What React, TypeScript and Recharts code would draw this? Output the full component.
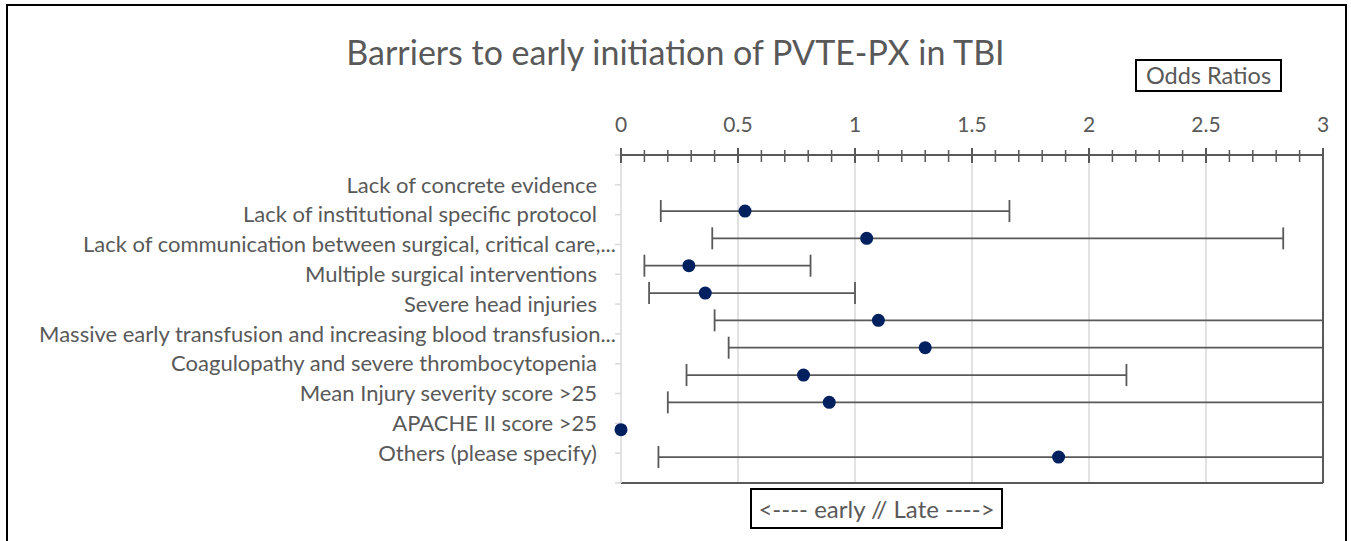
import React from "react";
import {
  ScatterChart, Scatter, XAxis, YAxis, ErrorBar, ReferenceLine,
} from "recharts";

const CATEGORIES = [
  "Lack of concrete evidence",
  "Lack of institutional specific protocol",
  "Lack of communication between surgical, critical care,...",
  "Multiple surgical interventions",
  "Severe head injuries",
  "Massive early transfusion and increasing blood transfusion...",
  "Coagulopathy and severe thrombocytopenia",
  "Mean Injury severity score >25",
  "APACHE II score >25",
  "Others (please specify)",
];

// odds ratio and 95% CI (upper bounds past 3 are cut off)
const ODDS = [0.53, 1.05, 0.29, 0.36, 1.1, 1.3, 0.78, 0.89, 0, 1.87];
const CI_LOW = [0.17, 0.39, 0.1, 0.12, 0.4, 0.46, 0.28, 0.2, null, 0.16];
const CI_HIGH = [1.66, 2.83, 0.81, 1.0, 3.4, 3.6, 2.16, 3.5, null, 3.8];

const X_MAX = 3;
const MAJOR_TICKS = [0, 0.5, 1, 1.5, 2, 2.5, 3];
const ALL_TICKS = [
  0, 0.1, 0.2, 0.3, 0.4, 0.5, 0.6, 0.7, 0.8, 0.9,
  1, 1.1, 1.2, 1.3, 1.4, 1.5, 1.6, 1.7, 1.8, 1.9,
  2, 2.1, 2.2, 2.3, 2.4, 2.5, 2.6, 2.7, 2.8, 2.9, 3,
];
const ROW_TICKS = [0, 1, 2, 3, 4, 5, 6, 7, 8, 9, 10, 11];

const FONT = "Lato, 'Open Sans', sans-serif";
const TEXT = "#595959";
const AXIS = "#595959";
const GRID = "#d9d9d9";
const DOT = "#002060";

// the plot is cut at X_MAX, so the whiskers stop at the edge there
const rows = CATEGORIES.map((name, i) => {
  const lo = CI_LOW[i];
  const hi = CI_HIGH[i];
  return {
    name,
    row: i + 1,
    or: ODDS[i],
    err: lo == null || hi == null ? null : [ODDS[i] - lo, Math.min(hi, X_MAX) - ODDS[i]],
  };
});

function TopTick(props: any) {
  const { x, y, payload } = props;
  const v = payload.value;
  const major = MAJOR_TICKS.some((m) => Math.abs(m - v) < 1e-6);
  return (
    <g>
      <line x1={x} x2={x} y1={major ? y - 7 : y - 5} y2={major ? y + 8 : y + 7} stroke={AXIS} strokeWidth={major ? 2 : 1.5} />
      {major && (
        <text x={x} y={y - 23} textAnchor="middle" fill={TEXT} fontSize={21} fontFamily={FONT}>
          {String(v)}
        </text>
      )}
    </g>
  );
}

function LeftTick(props: any) {
  const { x, y, payload } = props;
  const label = CATEGORIES[payload.value - 1];
  if (!label) return <g />;
  const shift = label.endsWith("...") ? 19 : 0;
  return (
    <text x={x + shift} y={y} dy="0.35em" textAnchor="end" fill={TEXT} fontSize={22} fontFamily={FONT}>
      {label}
    </text>
  );
}

function Dot(props: any) {
  return <circle cx={props.cx} cy={props.cy} r={6.5} fill={DOT} />;
}

export default function App() {
  return (
    <div style={{ position: "absolute", left: 0, top: 0, width: 1351, height: 541, background: "#fff", overflow: "hidden", fontFamily: FONT }}>
      <div style={{ position: "absolute", left: 6, top: 4, width: 1337, height: 600, border: "2px solid #000" }} />
      <div style={{ position: "absolute", left: 0, width: 1351, top: 30, textAlign: "center", fontSize: 34, color: TEXT, lineHeight: "44px" }}>
        Barriers to early initiation of PVTE-PX in TBI
      </div>
      <ScatterChart width={1351} height={541} margin={{ top: 115, right: 28, bottom: 58, left: 0 }} style={{ position: "absolute", left: 0, top: 0 }}>
        <XAxis
          xAxisId="or"
          type="number"
          dataKey="or"
          orientation="top"
          domain={[0, X_MAX]}
          ticks={ALL_TICKS}
          interval={0}
          allowDataOverflow
          height={40}
          tickSize={0}
          tickMargin={0}
          tickLine={false}
          axisLine={{ stroke: AXIS, strokeWidth: 2 }}
          tick={<TopTick />}
        />
        <XAxis xAxisId="pts" type="number" dataKey="or" domain={[0, X_MAX]} hide />
        <YAxis
          yAxisId="cat"
          type="number"
          dataKey="row"
          domain={[0, 11]}
          allowDataOverflow
          reversed
          ticks={ROW_TICKS}
          interval={0}
          width={621}
          tickSize={6}
          tickMargin={18}
          axisLine={{ stroke: GRID, strokeWidth: 1.5 }}
          tickLine={{ stroke: GRID, strokeWidth: 1.5 }}
          tick={<LeftTick />}
        />
        <YAxis yAxisId="row" type="number" dataKey="row" domain={[-1.05, 10.95]} allowDataOverflow reversed hide />

        {MAJOR_TICKS.slice(1, -1).map((v) => (
          <ReferenceLine key={v} x={v} xAxisId="or" yAxisId="cat" stroke={GRID} strokeWidth={1.5} />
        ))}
        <ReferenceLine x={X_MAX} xAxisId="or" yAxisId="cat" stroke={AXIS} strokeWidth={2} />
        <ReferenceLine y={11} xAxisId="or" yAxisId="cat" stroke={AXIS} strokeWidth={2} />

        {/* invisible series so the category axis has data behind it */}
        <Scatter data={rows} xAxisId="or" yAxisId="cat" shape={() => <g />} isAnimationActive={false} />
        <Scatter data={rows} xAxisId="or" yAxisId="row" shape={() => <g />} isAnimationActive={false}>
          <ErrorBar dataKey="err" direction="x" width={11} stroke={AXIS} strokeWidth={1.8} isAnimationActive={false} />
        </Scatter>
        <Scatter data={rows} xAxisId="pts" yAxisId="row" shape={<Dot />} isAnimationActive={false} />
      </ScatterChart>
      <div style={{ position: "absolute", left: 1135, top: 59, width: 143, height: 29, border: "2px solid #000", background: "#fff", color: TEXT, fontSize: 23.5, lineHeight: "29px", textAlign: "center", whiteSpace: "nowrap" }}>
        Odds Ratios
      </div>
      <div style={{ position: "absolute", left: 750, top: 488, width: 249, height: 37, border: "2px solid #000", background: "#fff", color: TEXT, fontSize: 24, lineHeight: "37px", textAlign: "center", whiteSpace: "nowrap" }}>
        {"<---- early // Late ---->"}
      </div>
    </div>
  );
}
